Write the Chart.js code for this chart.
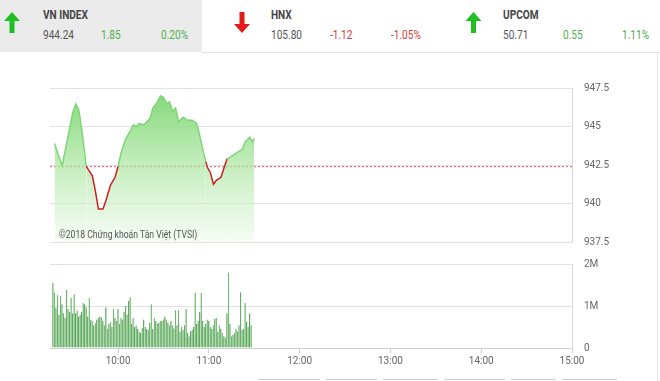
<!DOCTYPE html>
<html lang="vi">
<head>
<meta charset="UTF-8" />
<title>VN INDEX</title>
<script src="https://cdn.jsdelivr.net/npm/chart.js"></script>
<style>
  body { margin: 0; background: #fff; font-family: Roboto, "Noto Sans", sans-serif; }
  #wrap { position: relative; width: 660px; height: 381px; overflow: hidden; background: #fff; }
  .t { position: absolute; font-size: 12px; line-height: 14px; color: #555; white-space: nowrap; transform: scaleX(0.84); transform-origin: left center; }
  .name { font-weight: bold; color: #444; }
  .up { color: #4cae4c; }
  .down { color: #d43f3a; }
  .arrow { position: absolute; top: 12px; }
  #vnbox { position: absolute; left: 0; top: 0; width: 202px; height: 52px; background: #ebebeb; }
  #hline { position: absolute; left: 202px; top: 52px; width: 458px; height: 1px; background: #e3e3e3; }
  #vline { position: absolute; left: 657px; top: 52px; width: 1px; height: 329px; background: #e3e3e3; }
  .tab { position: absolute; top: 379px; height: 2px; border-top: 1px solid #cfcfcf; }
  #priceBox { position: absolute; left: 0; top: 70px; width: 660px; height: 190px; }
  #volBox { position: absolute; left: 0; top: 246px; width: 660px; height: 135px; }
  #mark { position: absolute; left: 59px; top: 229px; font-size: 10px; color: #555; transform: scaleX(0.86); transform-origin: left center; white-space: nowrap; }
</style>
</head>
<body>
<div id="wrap">
  <div id="vnbox"></div>
  <div id="hline"></div>
  <div id="vline"></div>

  <svg class="arrow" style="left:4px" width="16" height="21" viewBox="0 0 16 21"><polygon points="8,0 16,9 10.5,9 10.5,21 5.5,21 5.5,9 0,9" fill="#1fbf1f"/></svg>
  <span class="t name" style="left:43px;top:8px">VN INDEX</span>
  <span class="t" style="left:43px;top:28px">944.24</span>
  <span class="t up" style="left:101px;top:28px">1.85</span>
  <span class="t up" style="left:161px;top:28px">0.20%</span>

  <svg class="arrow" style="left:233px" width="18" height="21" viewBox="0 0 16 21"><polygon points="8,21 16,12 10.5,12 10.5,0 5.5,0 5.5,12 0,12" fill="#e31b1b"/></svg>
  <span class="t name" style="left:271px;top:8px">HNX</span>
  <span class="t" style="left:271px;top:28px">105.80</span>
  <span class="t down" style="left:330px;top:28px">-1.12</span>
  <span class="t down" style="left:391px;top:28px">-1.05%</span>

  <svg class="arrow" style="left:465px" width="17" height="21" viewBox="0 0 16 21"><polygon points="8,0 16,9 10.5,9 10.5,21 5.5,21 5.5,9 0,9" fill="#1fbf1f"/></svg>
  <span class="t name" style="left:503px;top:8px">UPCOM</span>
  <span class="t" style="left:503px;top:28px">50.71</span>
  <span class="t up" style="left:563px;top:28px">0.55</span>
  <span class="t up" style="left:622px;top:28px">1.11%</span>

  <div id="priceBox"><canvas id="priceChart"></canvas></div>
  <div id="volBox"><canvas id="volChart"></canvas></div>
  <div id="mark">©2018 Chứng khoán Tân Việt (TVSI)</div>

  <div class="tab" style="left:258px;width:62px"></div>
  <div class="tab" style="left:326px;width:51px"></div>
  <div class="tab" style="left:383px;width:55px"></div>
  <div class="tab" style="left:444px;width:61px"></div>
  <div class="tab" style="left:511px;width:45px"></div>
  <div class="tab" style="left:562px;width:55px"></div>
</div>

<script>
  // time axis in minutes since midnight (9:15 -> 15:00)
  var timeMin = 555;
  var timeMax = 900;
  var hourTicks = [600, 660, 720, 780, 840, 900];

  var refValue = 942.39; // previous close

  var priceTimes = [558, 560, 563, 565, 568, 570, 572, 574, 576, 579, 581, 583, 585, 587, 590, 592, 595, 598, 600,
                    602, 605, 608, 610, 612, 614, 617, 619, 621, 623, 626, 628, 630, 632, 634, 636, 638, 640, 643,
                    646, 649, 652, 654, 656, 658, 659, 661, 663, 665, 668, 670, 672, 674, 677, 680, 682, 684, 687, 689, 690];
  var priceValues = [943.9, 943.3, 942.45, 943.4, 944.9, 945.9, 946.45, 946.1, 944.8, 942.4, 942.1, 941.8, 940.8, 939.64, 939.64, 940.2, 941.2, 941.7, 942.4,
                     943.3, 944.2, 944.7, 945.1, 945.0, 945.2, 945.1, 945.3, 945.5, 946.2, 946.6, 947.0, 946.9, 946.5, 946.6, 946.0, 946.2, 945.3, 945.6,
                     945.4, 945.4, 945.2, 944.4, 943.5, 942.7, 942.35, 942.0, 941.25, 941.5, 941.7, 942.3, 942.9, 943.0, 943.2, 943.4, 943.5, 944.0, 944.3, 944.0, 944.24];

  var priceTicks = [937.5, 940, 942.5, 945, 947.5];

  // volume per minute, millions of shares, first bar at 9:17
  var volStart = 557;
  var volValues = [1.55, 1.32, 0.95, 1.26, 0.79, 1.24, 1.04, 0.83, 0.72, 1.38, 0.93,
                   0.86, 1.19, 0.83, 1.28, 0.83, 0.90, 0.75, 0.80, 0.86, 1.08, 1.04,
                   0.97, 0.75, 1.19, 0.68, 0.64, 0.54, 0.60, 0.68, 0.72, 0.75, 0.73,
                   0.64, 0.54, 0.97, 0.46, 0.57, 0.62, 0.50, 0.93, 0.72, 0.64, 0.93,
                   0.57, 0.72, 0.68, 0.86, 1.00, 0.80, 1.12, 1.21, 0.57, 0.72, 0.50,
                   0.54, 0.46, 0.39, 0.36, 0.48, 0.68, 0.50, 0.46, 0.43, 0.61, 1.04,
                   0.46, 0.72, 0.64, 0.58, 0.61, 0.64, 0.64, 0.68, 0.75, 0.68, 0.61,
                   0.54, 0.64, 0.54, 0.47, 0.90, 0.54, 0.90, 0.39, 0.50, 0.43, 0.54,
                   0.93, 0.36, 0.28, 0.40, 0.43, 0.50, 1.32, 0.57, 0.64, 0.86, 1.31,
                   0.64, 0.50, 0.58, 0.68, 0.64, 0.50, 0.46, 0.54, 0.70, 0.72, 0.39,
                   0.54, 0.46, 0.36, 0.28, 0.25, 0.83, 1.80, 0.57, 0.28, 0.32, 0.36,
                   0.46, 0.40, 0.54, 1.33, 0.43, 0.46, 1.08, 0.62, 0.50, 0.83, 0.54];
  var volTicks = [0, 1, 2];
  var volTickLabels = ['0', '1M', '2M'];

  Chart.defaults.animation = false;
  Chart.defaults.font.family = 'Roboto, sans-serif';

  function hhmm(v) {
    var h = Math.floor(v / 60), m = v % 60;
    return h + ':' + (m < 10 ? '0' + m : m);
  }

  var pricePoints = priceTimes.map(function (t, i) { return { x: t, y: priceValues[i] }; });
  var volPoints = volValues.map(function (v, i) { return { x: volStart + i, y: v }; });

  function fixRight(scale) { scale.width = 88; }

  new Chart(document.getElementById('priceChart'), {
    type: 'line',
    data: {
      datasets: [{
        data: pricePoints,
        borderWidth: 1.5,
        pointRadius: 0,
        tension: 0,
        fill: 'start',
        borderColor: '#7fd677',
        segment: {
          borderColor: function (ctx) {
            return (ctx.p0.parsed.y < refValue - 0.02 || ctx.p1.parsed.y < refValue - 0.02) ? '#c8211e' : '#7fd677';
          }
        },
        backgroundColor: function (ctx) {
          var area = ctx.chart.chartArea;
          if (!area) return 'rgba(130,215,120,0.6)';
          var g = ctx.chart.ctx.createLinearGradient(0, area.top, 0, area.bottom);
          g.addColorStop(0, 'rgba(118,212,106,0.95)');
          g.addColorStop(0.5, 'rgba(170,230,160,0.7)');
          g.addColorStop(1, 'rgba(240,250,238,0.6)');
          return g;
        }
      }, {
        data: [{ x: timeMin, y: refValue }, { x: timeMax, y: refValue }],
        borderColor: '#e25a5a',
        borderWidth: 1,
        borderDash: [2, 2],
        pointRadius: 0,
        fill: false
      }]
    },
    options: {
      responsive: true,
      maintainAspectRatio: false,
      layout: { padding: { left: 50, top: 16, bottom: 16, right: 0 } },
      plugins: { legend: { display: false }, tooltip: { enabled: false } },
      scales: {
        x: { type: 'linear', min: timeMin, max: timeMax, display: false },
        y: {
          position: 'right',
          min: 937.5,
          max: 947.5,
          afterFit: fixRight,
          afterBuildTicks: function (s) { s.ticks = priceTicks.map(function (v) { return { value: v }; }); },
          grid: { color: '#e2e2e2', drawTicks: false },
          border: { display: true, color: '#d8d8d8' },
          ticks: { padding: 12, color: '#666', font: { size: 10 }, callback: function (v) { return v; } }
        }
      }
    }
  });

  new Chart(document.getElementById('volChart'), {
    type: 'bar',
    data: {
      datasets: [{
        data: volPoints,
        backgroundColor: 'rgba(92,182,92,0.9)',
        borderColor: '#1f7a1f',
        borderWidth: { left: 1, right: 0, top: 0, bottom: 0 },
        barPercentage: 1,
        categoryPercentage: 0.95
      }]
    },
    options: {
      responsive: true,
      maintainAspectRatio: false,
      layout: { padding: { left: 50, top: 10, bottom: 0, right: 0 } },
      plugins: { legend: { display: false }, tooltip: { enabled: false } },
      scales: {
        x: {
          type: 'linear',
          min: timeMin,
          max: timeMax,
          offset: false,
          afterFit: function (s) { s.height = 33; },
          afterBuildTicks: function (s) { s.ticks = hourTicks.map(function (v) { return { value: v }; }); },
          grid: { offset: false, drawOnChartArea: false, drawTicks: true, tickLength: 5, color: '#cfcfcf' },
          border: { display: true, color: '#cfcfcf' },
          ticks: { padding: 2, color: '#666', font: { size: 10 }, maxRotation: 0, callback: function (v) { return hhmm(v); } }
        },
        y: {
          position: 'right',
          min: 0,
          max: 2,
          afterFit: fixRight,
          afterBuildTicks: function (s) { s.ticks = volTicks.map(function (v) { return { value: v }; }); },
          grid: { color: '#e2e2e2', drawTicks: false },
          border: { display: true, color: '#d8d8d8' },
          ticks: { padding: 12, color: '#666', font: { size: 10 }, callback: function (v) { return volTickLabels[volTicks.indexOf(v)]; } }
        }
      }
    }
  });
</script>
</body>
</html>
